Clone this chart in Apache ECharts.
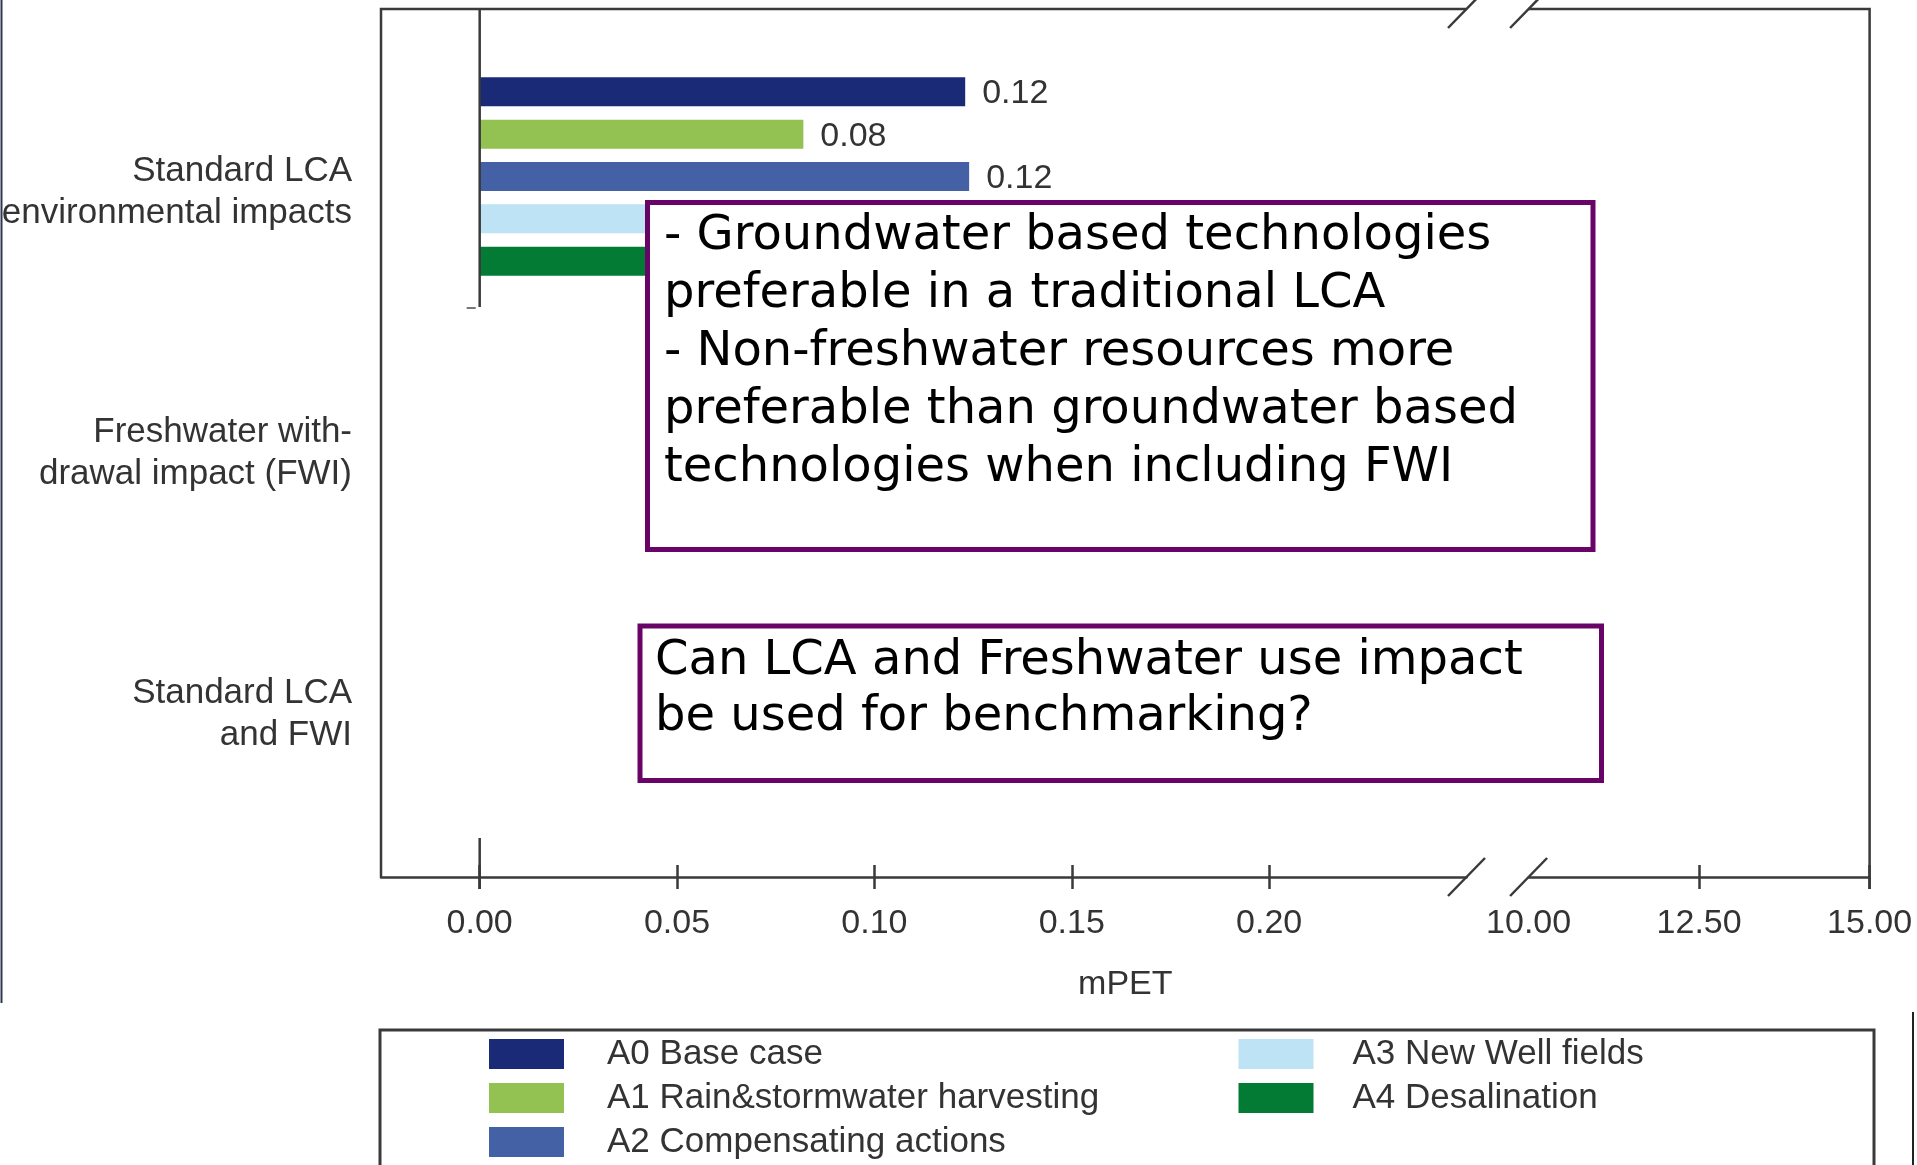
<!DOCTYPE html>
<html>
<head>
<meta charset="utf-8">
<script src="https://cdn.jsdelivr.net/npm/echarts@6/dist/echarts.min.js"></script>
<style>
html,body{margin:0;padding:0;background:#ffffff;}
#c{width:1917px;height:1165px;}
</style>
</head>
<body>
<div id="c"></div>
<script>
// ---------------- data ----------------
const categories = ['Standard LCA\nenvironmental impacts', 'Freshwater with-\ndrawal impact (FWI)', 'Standard LCA\nand FWI'];
const seriesNames = ['A0 Base case', 'A1 Rain&stormwater harvesting', 'A2 Compensating actions', 'A3 New Well fields', 'A4 Desalination'];
const a0Values = [0.123, null, null];
const a1Values = [0.082, null, null];
const a2Values = [0.124, null, null];
const a3Values = [0.11, null, null];   // hidden behind the annotation box
const a4Values = [0.19, null, null];   // hidden behind the annotation box
const lowTickValues = [0, 0.05, 0.10, 0.15, 0.20];
const highLabelValues = [10, 12.5, 15];
const highTickValues = [12.5, 15];
const note1Lines = ['- Groundwater based technologies', 'preferable in a traditional LCA', '- Non-freshwater resources more', 'preferable than groundwater based', 'technologies when including FWI'];
const note2Lines = ['Can LCA and Freshwater use impact', 'be used for benchmarking?'];
const axisTitle = 'mPET';
const seriesColors = ['#1b2a77', '#93c152', '#4561a6', '#bde3f4', '#037b34'];

// ---------------- layout ----------------
const W = 1917, H = 1165;
const FRAME_L = 381, FRAME_R = 1869.6, FRAME_T = 9, AXIS_Y = 877;
const BREAK_L = 1466.5, BREAK_R = 1528.6;
const GRID_T = 46, GRID_B = 829;
const LINE = '#3a3a3a';
const TXT = '#333333';
const PURPLE = '#680468';
const FONT = '"Liberation Sans", Arial, Helvetica, sans-serif';
const NOTE_FONT = '"DejaVu Sans", Verdana, sans-serif';

const chart = echarts.init(document.getElementById('c'), null, {renderer: 'canvas'});
const allValues = [a0Values, a1Values, a2Values, a3Values, a4Values];

const fmt2 = v => Number(v).toFixed(2);

function legendOf(names, left, textPadLeft) {
  return {
    data: names, left: left,
    orient: 'vertical', top: 1036.5, height: 400, padding: 0,
    itemWidth: 75, itemHeight: 30, itemGap: 9, icon: 'rect', selectedMode: false,
    itemStyle: {borderWidth: 0},
    textStyle: {fontSize: 35, color: TXT, fontFamily: FONT, padding: [0, 0, 0, textPadLeft]}
  };
}

const option = {
  animation: false,
  backgroundColor: '#ffffff',
  textStyle: {fontFamily: FONT},
  grid: [
    {left: FRAME_L, right: W - BREAK_L, top: GRID_T, bottom: H - GRID_B, containLabel: false, outerBoundsMode: 'none'},
    {left: BREAK_R, right: W - FRAME_R, top: GRID_T, bottom: H - GRID_B, containLabel: false, outerBoundsMode: 'none'}
  ],
  xAxis: [
    {
      gridIndex: 0, type: 'value', min: -0.025, max: 0.25, position: 'bottom', offset: AXIS_Y - GRID_B,
      axisLine: {show: true, onZero: false, lineStyle: {color: LINE, width: 2.5}},
      axisTick: {show: false},
      axisLabel: {show: true, customValues: lowTickValues, formatter: fmt2, fontSize: 34, color: TXT, fontFamily: FONT, margin: 30},
      splitLine: {show: false}
    },
    {
      gridIndex: 0, type: 'value', min: -0.025, max: 0.25, position: 'bottom', offset: AXIS_Y - GRID_B + 12,
      axisLine: {show: false, onZero: false},
      axisTick: {show: true, inside: true, length: 24, customValues: lowTickValues, lineStyle: {color: LINE, width: 2.5}},
      axisLabel: {show: false},
      splitLine: {show: false}
    },
    {
      gridIndex: 1, type: 'value', min: 10, max: 15, interval: 2.5, position: 'bottom', offset: AXIS_Y - GRID_B,
      axisLine: {show: true, onZero: false, lineStyle: {color: LINE, width: 2.5}},
      axisTick: {show: false},
      axisLabel: {show: true, customValues: highLabelValues, formatter: fmt2, fontSize: 34, color: TXT, fontFamily: FONT, margin: 30},
      splitLine: {show: false}
    },
    {
      gridIndex: 1, type: 'value', min: 10, max: 15, interval: 2.5, position: 'bottom', offset: AXIS_Y - GRID_B + 12,
      axisLine: {show: false, onZero: false},
      axisTick: {show: true, inside: true, length: 24, customValues: highTickValues, lineStyle: {color: LINE, width: 2.5}},
      axisLabel: {show: false},
      splitLine: {show: false}
    }
  ],
  yAxis: [
    {
      gridIndex: 0, type: 'category', data: categories, inverse: true,
      axisLine: {show: false}, axisTick: {show: false}, splitLine: {show: false},
      axisLabel: {
        margin: 29, align: 'right',
        formatter: v => '{s| }\n' + v.split('\n').map(l => '{t|' + l + '}').join('\n'),
        rich: {
          s: {fontSize: 2, lineHeight: 31, height: 31},
          t: {fontSize: 35, color: TXT, fontFamily: FONT, lineHeight: 42, align: 'right'}
        }
      }
    },
    {
      gridIndex: 1, type: 'category', data: categories, inverse: true, show: false
    }
  ],
  legend: [
    legendOf(seriesNames.slice(0, 3), 489, 38),
    legendOf(seriesNames.slice(3), 1238.5, 34)
  ],
  series: seriesNames.map((name, i) => ({
    name: name,
    type: 'bar',
    xAxisIndex: 0,
    yAxisIndex: 0,
    data: allValues[i],
    barWidth: 29,
    barGap: '46%',
    itemStyle: {color: seriesColors[i], borderWidth: 0},
    label: {
      show: true, position: 'right', distance: 17, offset: [0, 2],
      formatter: p => (p.value == null ? '' : fmt2(p.value)),
      fontSize: 34, color: TXT, fontFamily: FONT
    },
    emphasis: {disabled: true}
  }))
};

chart.setOption(option);

// decorations computed from the axes
const x0 = chart.convertToPixel({xAxisIndex: 0}, 0);
const bandH = (GRID_B - GRID_T) / categories.length;
const bandEnd1 = GRID_T + bandH;
const lineStyle = {stroke: LINE, lineWidth: 2.5};

function slash(cx, cy) {
  return {type: 'line', z: 110, shape: {x1: cx - 18.5, y1: cy + 19, x2: cx + 18.5, y2: cy - 19}, style: {stroke: LINE, lineWidth: 2.5}};
}

const graphics = [
  // frame
  {type: 'polyline', z: 50, shape: {points: [[BREAK_L, FRAME_T], [FRAME_L, FRAME_T], [FRAME_L, AXIS_Y]]}, style: Object.assign({fill: null}, lineStyle)},
  {type: 'polyline', z: 50, shape: {points: [[BREAK_R, FRAME_T], [FRAME_R, FRAME_T], [FRAME_R, AXIS_Y + 12]]}, style: Object.assign({fill: null}, lineStyle)},
  slash(BREAK_L, FRAME_T), slash(BREAK_R, FRAME_T), slash(BREAK_L, AXIS_Y), slash(BREAK_R, AXIS_Y),
  // y-axis line remnants
  {type: 'line', z: 50, shape: {x1: x0, y1: FRAME_T, x2: x0, y2: bandEnd1}, style: {stroke: LINE, lineWidth: 2.5}},
  {type: 'line', z: 50, shape: {x1: x0 - 13, y1: bandEnd1 + 1, x2: x0 - 4, y2: bandEnd1 + 1}, style: {stroke: '#777', lineWidth: 2}},
  {type: 'line', z: 50, shape: {x1: x0, y1: 838, x2: x0, y2: AXIS_Y + 12}, style: {stroke: LINE, lineWidth: 2.5}},
  // axis title
  {type: 'text', z: 50, x: (FRAME_L + FRAME_R) / 2, y: 984.5, style: {text: axisTitle, fill: TXT, font: '34px ' + FONT, textAlign: 'center', textVerticalAlign: 'middle'}},
  // note box 1
  {type: 'rect', z: 100, shape: {x: 647.5, y: 202.5, width: 945.5, height: 347}, style: {fill: '#ffffff', stroke: PURPLE, lineWidth: 5}},
  {type: 'text', z: 101, x: 664, y: 207.5, style: {text: note1Lines.join('\n'), fill: '#000000', font: '48px ' + NOTE_FONT, lineHeight: 58, textAlign: 'left', textVerticalAlign: 'top'}},
  // note box 2
  {type: 'rect', z: 100, shape: {x: 640, y: 626, width: 961.5, height: 154.5}, style: {fill: '#ffffff', stroke: PURPLE, lineWidth: 5}},
  {type: 'text', z: 101, x: 655, y: 634, style: {text: note2Lines.join('\n'), fill: '#000000', font: '48px ' + NOTE_FONT, lineHeight: 56, textAlign: 'left', textVerticalAlign: 'top'}},
  // legend frame (continues below the picture)
  {type: 'polyline', z: 50, shape: {points: [[380, H + 5], [380, 1030], [1874, 1030], [1874, H + 5]]}, style: {fill: null, stroke: LINE, lineWidth: 3}},
  // slide edge lines
  {type: 'line', z: 50, shape: {x1: 1.5, y1: 0, x2: 1.5, y2: 1003}, style: {stroke: '#2e3550', lineWidth: 2}},
  {type: 'line', z: 50, shape: {x1: 1913, y1: 1012, x2: 1913, y2: H}, style: {stroke: '#222', lineWidth: 2}}
];

chart.setOption({graphic: graphics});
</script>
</body>
</html>
